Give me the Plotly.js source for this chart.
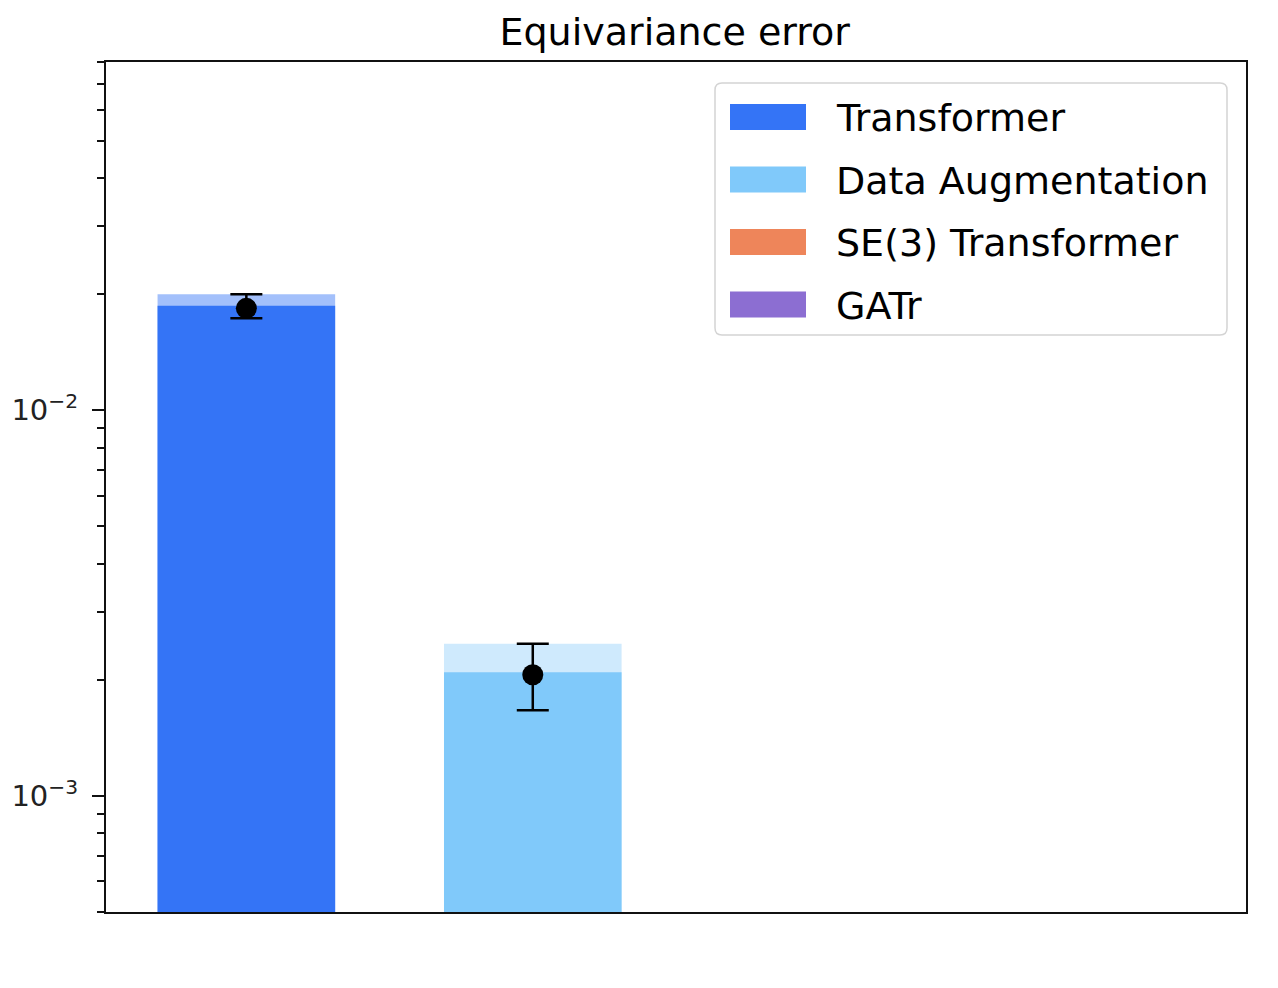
<!DOCTYPE html>
<html>
<head>
<meta charset="utf-8">
<script src="https://cdn.plot.ly/plotly-3.0.1.min.js"></script>
<style>
html,body{margin:0;padding:0;background:#fff;}
#chart{width:1278px;height:988px;}
</style>
</head>
<body>
<div id="chart"></div>
<script>
// ---- data ----
var models = ['Transformer', 'Data Augmentation', 'SE(3) Transformer', 'GATr'];
var barColors = ['#3474f6', '#80c9fa', '#ee855a', '#8c6ed2'];
var bandColors = ['rgba(52,116,246,0.45)', 'rgba(128,201,250,0.38)', 'rgba(238,133,90,0.4)', 'rgba(140,110,210,0.4)'];
// bar height (mean), marker value, upper / lower error bounds
var barValues   = [0.01867, 0.002091, 1e-7, 1e-7];
var pointValues = [0.01838, 0.002062, 1e-7, 1e-7];
var upperValues = [0.0200,  0.00248,  1e-7, 1e-7];
var lowerValues = [0.01732, 0.001668, 1e-7, 1e-7];
var yTickVals = [1e-3, 1e-2];
var yTickText = ['10<sup>−3</sup>', '10<sup>−2</sup>'];
var yMinorVals = [5e-4, 6e-4, 7e-4, 8e-4, 9e-4, 2e-3, 3e-3, 4e-3, 5e-3, 6e-3, 7e-3, 8e-3, 9e-3, 2e-2, 3e-2, 4e-2, 5e-2, 6e-2, 7e-2, 8e-2];
var yRange = [5e-4, 8e-2];

var FONT = 'DejaVu Sans, sans-serif';
var traces = [];
// translucent upper band bars
traces.push({
  type: 'bar', x: models, y: upperValues, width: 0.62,
  marker: {color: bandColors, line: {width: 0}},
  showlegend: false, hoverinfo: 'skip'
});
// solid bars
traces.push({
  type: 'bar', x: models, y: barValues, width: 0.62,
  marker: {color: barColors, line: {width: 0}},
  showlegend: false
});
// points with error bars
traces.push({
  type: 'scatter', mode: 'markers', x: models, y: pointValues,
  marker: {color: '#000', size: 21},
  error_y: {
    type: 'data', symmetric: false,
    array: upperValues.map(function(u, i){ return u - pointValues[i]; }),
    arrayminus: lowerValues.map(function(l, i){ return pointValues[i] - l; }),
    color: '#000', thickness: 2.5, width: 16
  },
  showlegend: false
});

// ---- custom legend (matplotlib-style wide swatches) ----
var L = 106, R = 1246, T = 62, B = 912;
var W = R - L, H = B - T;
function px(xp){ return (xp - L) / W; }
function py(yp){ return (B - yp) / H; }
function roundRect(x0p, y0p, x1p, y1p, r){
  var a = px(x0p), b = px(x1p), c = py(y0p), d = py(y1p);
  var rx = r / W, ry = r / H;
  return 'M' + (a + rx) + ',' + c +
    ' L' + (b - rx) + ',' + c + ' Q' + b + ',' + c + ' ' + b + ',' + (c - ry) +
    ' L' + b + ',' + (d + ry) + ' Q' + b + ',' + d + ' ' + (b - rx) + ',' + d +
    ' L' + (a + rx) + ',' + d + ' Q' + a + ',' + d + ' ' + a + ',' + (d + ry) +
    ' L' + a + ',' + (c - ry) + ' Q' + a + ',' + c + ' ' + (a + rx) + ',' + c + ' Z';
}
var shapes = [];
var annotations = [];
shapes.push({
  type: 'path', xref: 'paper', yref: 'paper', layer: 'above',
  path: roundRect(715, 83, 1227, 335, 7),
  line: {color: '#d4d4d4', width: 1.5}, fillcolor: 'rgba(255,255,255,0.8)'
});
for (var i = 0; i < models.length; i++) {
  var cy = 117 + i * 62.5;
  shapes.push({
    type: 'rect', xref: 'paper', yref: 'paper', layer: 'above',
    x0: px(730), x1: px(806), y0: py(cy + 13), y1: py(cy - 13),
    line: {width: 0}, fillcolor: barColors[i]
  });
  annotations.push({
    xref: 'paper', yref: 'paper', x: px(834), y: py(cy + 1),
    xanchor: 'left', yanchor: 'middle', showarrow: false,
    text: models[i], font: {family: FONT, size: 38, color: '#000'}
  });
}

var layout = {
  width: 1278, height: 988,
  margin: {l: L, r: 1278 - R, t: T, b: 988 - B, pad: 0},
  paper_bgcolor: '#fff', plot_bgcolor: '#fff',
  barmode: 'overlay',
  showlegend: false,
  title: {
    text: 'Equivariance error',
    font: {family: FONT, size: 38, color: '#000'},
    x: (L + R) / 2 / 1278 - 0.001, xanchor: 'center', xref: 'container',
    y: 1 - 32 / 988, yanchor: 'middle', yref: 'container'
  },
  xaxis: {
    type: 'category', range: [-0.49, 3.49],
    tickmode: 'array', tickvals: [], ticktext: [],
    showticklabels: false, ticks: '', showgrid: false, zeroline: false,
    showline: true, mirror: true, linecolor: '#111', linewidth: 2
  },
  yaxis: {
    type: 'log', range: [Math.log10(yRange[0]), Math.log10(yRange[1])],
    tickmode: 'array', tickvals: yTickVals, ticktext: yTickText,
    ticks: 'outside', ticklen: 12, tickwidth: 2, tickcolor: '#111',
    ticklabelstandoff: 8,
    minor: {tickmode: 'array', tickvals: yMinorVals, ticks: 'outside', ticklen: 7.5, tickwidth: 2, tickcolor: '#111', showgrid: false},
    showgrid: false, zeroline: false,
    showline: true, mirror: true, linecolor: '#111', linewidth: 2,
    tickfont: {family: FONT, size: 29, color: '#222'}
  },
  shapes: shapes,
  annotations: annotations
};

Plotly.newPlot('chart', traces, layout, {displayModeBar: false, staticPlot: true});
</script>
</body>
</html>
